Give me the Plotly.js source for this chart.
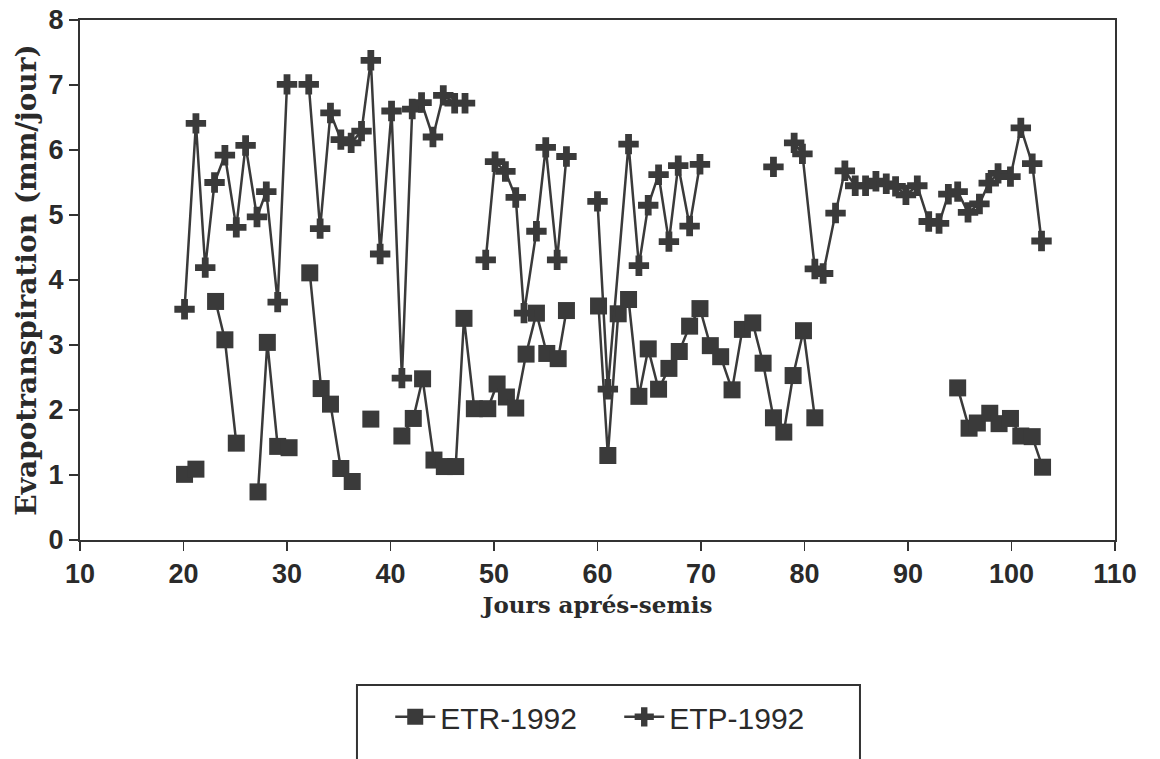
<!DOCTYPE html>
<html>
<head>
<meta charset="utf-8">
<script src="https://cdn.plot.ly/plotly-3.0.1.min.js"></script>
<style>html,body{margin:0;padding:0;background:#fff;}#chart{width:1160px;height:759px;}</style>
</head>
<body>
<div id="chart"></div>
<script>
// Days after sowing (null = gap in the series)
const etrDays = [20.1,21.2,null,23.1,24.0,25.1,null,27.2,28.1,29.1,30.2,null,32.2,33.3,34.2,35.2,36.3,null,38.1,null,
  41.1,42.2,43.1,44.2,45.2,46.3,47.1,48.1,49.4,50.3,51.2,52.1,53.1,54.1,55.1,56.2,57.0,null,
  60.1,61.0,62.0,63.0,64.0,64.9,65.9,66.9,67.9,68.9,69.9,70.9,71.9,73.0,74.0,75.0,76.0,77.0,78.0,78.9,79.9,81.0,null,
  94.8,95.9,96.7,97.9,98.8,99.9,100.9,102.0,103.0];
const etrValues = [1.01,1.09,null,3.67,3.08,1.49,null,0.74,3.04,1.44,1.42,null,4.11,2.33,2.09,1.10,0.90,null,1.86,null,
  1.60,1.87,2.48,1.23,1.13,1.13,3.41,2.02,2.02,2.40,2.20,2.03,2.86,3.49,2.87,2.79,3.53,null,
  3.60,1.30,3.48,3.70,2.21,2.94,2.32,2.64,2.90,3.29,3.56,2.99,2.82,2.31,3.24,3.34,2.72,1.88,1.66,2.53,3.22,1.88,null,
  2.34,1.72,1.80,1.95,1.79,1.87,1.60,1.59,1.12];

const etpDays = [20.1,21.2,22.1,23.0,24.0,25.1,26.0,27.1,28.0,29.1,30.0,null,32.1,33.2,34.2,35.2,36.2,37.2,38.1,39.0,40.1,
  41.1,42.1,43.0,44.1,45.1,46.2,47.2,null,49.2,50.1,51.1,52.1,52.9,54.1,55.0,56.1,57.0,null,
  60.0,61.0,63.0,64.0,64.9,65.9,66.9,67.8,68.9,69.9,null,77.0,null,79.0,79.8,81.0,81.8,83.0,83.9,84.9,85.9,86.9,87.9,
  88.8,89.8,90.9,92.0,93.0,93.9,94.8,95.8,96.9,97.8,98.7,99.9,100.9,102.0,102.9];
const etpValues = [3.55,6.41,4.19,5.50,5.92,4.81,6.07,4.97,5.36,3.66,7.01,null,7.01,4.79,6.57,6.16,6.11,6.29,7.38,4.40,6.60,
  2.49,6.63,6.73,6.20,6.84,6.72,6.72,null,4.31,5.82,5.67,5.27,3.49,4.75,6.04,4.31,5.90,null,
  5.21,2.32,6.09,4.22,5.15,5.62,4.59,5.76,4.83,5.78,null,5.74,null,6.11,5.94,4.17,4.10,5.03,5.68,5.45,5.45,5.52,5.48,
  5.44,5.31,5.45,4.90,4.87,5.32,5.36,5.04,5.17,5.49,5.64,5.59,6.34,5.79,4.60];

const seriesNames = ['ETR-1992','ETP-1992'];
const xTitle = 'Jours aprés-semis';
const yTitle = 'Evapotranspiration (mm/jour)';

const ink = '#3a3a3a';

const traces = [
  {x: etrDays, y: etrValues, name: seriesNames[0], type: 'scatter', mode: 'lines+markers', connectgaps: false,
   line: {color: ink, width: 2.5}, marker: {symbol: 'square', size: 17, color: ink}},
  {x: etpDays, y: etpValues, name: seriesNames[1], type: 'scatter', mode: 'lines+markers', connectgaps: false,
   line: {color: ink, width: 2.5}, marker: {symbol: 'cross', size: 17, color: ink}}
];

const tickFont = {family: 'Liberation Sans, Arial, sans-serif', size: 27, color: '#2a2a2a', weight: 'bold'};
const layout = {
  width: 1160, height: 759,
  paper_bgcolor: '#fff', plot_bgcolor: '#fff',
  margin: {l: 80, r: 45, t: 20, b: 219},
  showlegend: true,
  xaxis: {range: [10, 110], dtick: 10, tick0: 10, showgrid: false, zeroline: false,
    showline: true, mirror: true, linecolor: '#333', linewidth: 2,
    ticks: 'outside', ticklen: 9, tickwidth: 1.5, tickcolor: '#333',
    tickfont: tickFont,
    title: {text: xTitle, standoff: 8, font: {family: 'DejaVu Serif, serif', size: 23, color: '#2a2a2a', weight: 'bold'}}},
  yaxis: {range: [0, 8], dtick: 1, showgrid: false, zeroline: false,
    showline: true, mirror: true, linecolor: '#333', linewidth: 2,
    ticks: 'outside', ticklen: 9, tickwidth: 1.5, tickcolor: '#333',
    tickfont: tickFont,
    title: {text: yTitle, standoff: 4, font: {family: 'DejaVu Serif, serif', size: 28, color: '#2a2a2a', weight: 'bold'}}},
  legend: {orientation: 'h', x: 0.521, xanchor: 'center', y: -0.34, yanchor: 'middle',
    entrywidth: 174, itemwidth: 40,
    font: {family: 'Liberation Sans, Arial, sans-serif', size: 30, color: '#2a2a2a'},
    bgcolor: 'rgba(0,0,0,0)', borderwidth: 0},
  shapes: [{type: 'rect', xref: 'paper', yref: 'paper', x0: 0.2676, x1: 0.7536, y0: -0.2788, y1: -0.47,
    line: {color: '#333', width: 2}, fillcolor: 'rgba(0,0,0,0)', layer: 'above'}]
};

Plotly.newPlot('chart', traces, layout, {displayModeBar: false, staticPlot: true});
</script>
</body>
</html>
